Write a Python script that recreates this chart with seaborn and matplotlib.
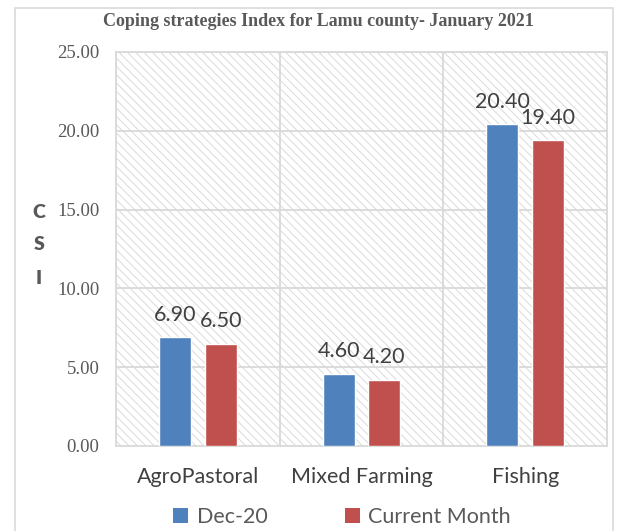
import matplotlib
matplotlib.use("Agg")
import matplotlib.pyplot as plt
from matplotlib.patches import Rectangle, Patch
import seaborn as sns
import pandas as pd

# Coping Strategies Index by livelihood zone
zones = ["AgroPastoral", "Mixed Farming", "Fishing"]
series = ["Dec-20", "Current Month"]
dec20 = [6.90, 4.60, 20.40]
current_month = [6.50, 4.20, 19.40]
y_ticks = [0, 5, 10, 15, 20, 25]

colors = ["#4F81BD", "#C0504D"]
grid_col = "#d9d9d9"
text_col = "#595959"
label_col = "#404040"

df = pd.DataFrame({
    "zone": zones * 2,
    "period": [series[0]] * 3 + [series[1]] * 3,
    "csi": dec20 + current_month,
})

sns.set_style("white")
plt.rcParams["font.family"] = ["Lato", "DejaVu Sans"]
plt.rcParams["hatch.linewidth"] = 0.7

fig = plt.figure(figsize=(6.27, 5.31), dpi=100)
ax = fig.add_axes([116 / 627, 1 - 446 / 531, (607 - 116) / 627, (446 - 52) / 531])

# hatched plot-area background
ax.add_patch(Rectangle((0, 0), 1, 1, transform=ax.transAxes, facecolor="white",
                       edgecolor="#dadada", hatch="\\\\\\\\", lw=0, zorder=0))

sns.barplot(data=df, x="zone", y="csi", hue="period", order=zones,
            hue_order=series, palette=colors, width=0.56, gap=0.30,
            saturation=1, legend=False, ax=ax, zorder=3)

ax.set_ylim(0, 25)
ax.set_xlim(-0.5, 2.5)
ax.set_yticks(y_ticks)
ax.set_yticklabels([f"{v:.2f}" for v in y_ticks], family="Liberation Serif",
                   fontsize=13.5, color=text_col)
ax.set_xticks(range(len(zones)))
ax.set_xticklabels(zones, fontsize=15.5, color=label_col)
ax.tick_params(axis="y", length=0, pad=12)
ax.tick_params(axis="x", length=0, pad=15)
ax.set_xlabel("")
ax.set_ylabel("")

for v in y_ticks[1:]:
    ax.axhline(v, color=grid_col, lw=1.3, zorder=1)
for xv in [0.5, 1.5]:
    ax.axvline(xv, color=grid_col, lw=1.3, zorder=1)
for s in ax.spines.values():
    s.set_color(grid_col)
    s.set_linewidth(1.3)

# value labels above bars
for container in ax.containers:
    for bar in container:
        h = bar.get_height()
        ax.annotate(f"{h:.2f}", (bar.get_x() + bar.get_width() / 2, h),
                    xytext=(0, 12), textcoords="offset points",
                    ha="center", va="baseline", fontsize=15.5, color=label_col,
                    zorder=5)

fig.text(318 / 627, 1 - 22 / 531,
         "Coping strategies Index for Lamu county- January 2021",
         family="Liberation Serif", fontweight="bold", fontsize=13,
         color=text_col, ha="center", va="center")

for ch, yp in zip("CSI", [212, 245, 279]):
    fig.text(39 / 627, 1 - yp / 531, ch, fontweight="heavy", fontsize=14,
             color=text_col, ha="center", va="center")

handles = [Patch(facecolor=c, edgecolor="none") for c in colors]
fig.legend(handles, series, loc="center", bbox_to_anchor=(342 / 627, 1 - 517 / 531),
           ncol=2, frameon=False, fontsize=15.5, labelcolor=text_col,
           handlelength=0.7, handleheight=0.7, handletextpad=0.4,
           columnspacing=3.6)

# chart border
fig.patches.append(Rectangle((15 / 627, -0.05), (613 - 15) / 627, 1.05 - 8 / 531,
                             transform=fig.transFigure, fill=False,
                             edgecolor=grid_col, lw=1.2))

fig.savefig("out.png", dpi=100)
